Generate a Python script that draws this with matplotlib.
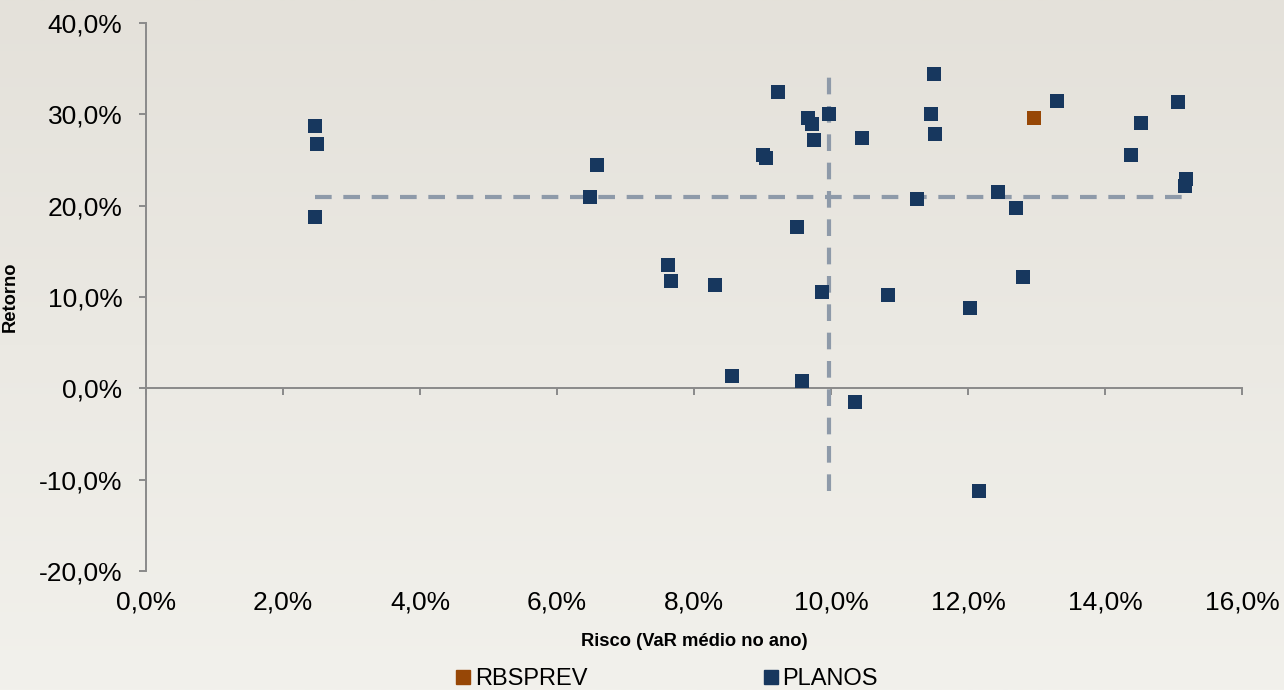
import numpy as np
import matplotlib
matplotlib.use("Agg")
import matplotlib.pyplot as plt
from matplotlib.ticker import FuncFormatter
from matplotlib.lines import Line2D

# risco (VaR medio no ano, %) x retorno (%) por plano
plano_risco = [2.47, 2.50, 2.47, 6.48, 6.58, 7.62, 7.66, 8.31, 8.55, 9.00, 9.05,
               9.23, 9.50, 9.58, 9.66, 9.72, 9.75, 9.87, 9.97, 10.35, 10.45, 10.83,
               11.25, 11.46, 11.50, 11.52, 12.03, 12.16, 12.44, 12.70, 12.80, 13.30,
               14.38, 14.53, 15.07, 15.18, 15.17]
plano_retorno = [28.7, 26.7, 18.8, 20.9, 24.5, 13.5, 11.8, 11.3, 1.4, 25.6, 25.2,
                 32.5, 17.7, 0.8, 29.6, 28.9, 27.2, 10.6, 30.0, -1.5, 27.4, 10.2,
                 20.7, 30.0, 34.4, 27.8, 8.8, -11.2, 21.5, 19.7, 12.2, 31.5,
                 25.6, 29.1, 31.3, 22.9, 22.2]
rbsprev_risco = [12.96]
rbsprev_retorno = [29.6]

media_risco = 9.97
media_retorno = 20.9

x_ticks = [0, 2, 4, 6, 8, 10, 12, 14, 16]
y_ticks = [-20, -10, 0, 10, 20, 30, 40]

AZUL = "#17375e"
LARANJA = "#974706"
CINZA = "#8a8a8a"
TRACO = "#8e9aa9"

plt.rcParams["font.family"] = ["Liberation Sans", "DejaVu Sans"]

fig = plt.figure(figsize=(12.84, 6.9), dpi=100)

# fundo em degrade cinza claro
bg = fig.add_axes([0, 0, 1, 1], zorder=-10)
grad = np.linspace(0, 1, 256).reshape(-1, 1)
bg.imshow(grad, aspect="auto", cmap=matplotlib.colors.LinearSegmentedColormap.from_list(
    "bg", ["#e4e1da", "#f2f1ec"]), extent=[0, 1, 0, 1], origin="upper")
bg.axis("off")

ax = fig.add_axes([146 / 1284, 1 - 571 / 690, (1242 - 146) / 1284, (571 - 23) / 690])
ax.patch.set_alpha(0)

pct = FuncFormatter(lambda v, p: f"{v:.1f}%".replace(".", ","))

# linhas de media
ax.plot([min(plano_risco), max(plano_risco)], [media_retorno, media_retorno],
        color=TRACO, lw=3, dashes=(4, 2.8), zorder=2)
ax.plot([media_risco, media_risco], [min(plano_retorno), max(plano_retorno)],
        color=TRACO, lw=3, dashes=(4, 2.8), zorder=2)

ax.scatter(plano_risco, plano_retorno, marker="s", s=100, color=AZUL, lw=0, zorder=3)
ax.scatter(rbsprev_risco, rbsprev_retorno, marker="s", s=100, color=LARANJA, lw=0, zorder=4)

ax.set_xlim(0, 16)
ax.set_ylim(-20, 40)
ax.set_xticks(x_ticks)
ax.set_yticks(y_ticks)
ax.yaxis.set_major_formatter(pct)

for s in ["top", "right"]:
    ax.spines[s].set_visible(False)
ax.spines["bottom"].set_position(("data", 0))
for s in ["left", "bottom"]:
    ax.spines[s].set_color(CINZA)
    ax.spines[s].set_linewidth(1.4)
ax.tick_params(axis="x", labelbottom=False, length=5, width=1.4, color=CINZA, direction="out")
ax.tick_params(axis="y", length=5, width=1.4, color=CINZA, labelsize=19, pad=12)

# rotulos do eixo x na base do grafico
sec = ax.secondary_xaxis(0)
sec.set_xticks(x_ticks)
sec.xaxis.set_major_formatter(pct)
sec.spines["bottom"].set_visible(False)
sec.tick_params(length=0, labelsize=19, pad=14)
sec.set_xlabel("Risco (VaR médio no ano)", fontsize=13.2, fontweight="bold", labelpad=13)

ax.set_ylabel("Retorno", fontsize=13.2, fontweight="bold")
ax.yaxis.set_label_coords((19 - 146) / 1096, 0.5)

handles = [
    Line2D([], [], marker="s", ls="", ms=10, color=LARANJA, label="RBSPREV"),
    Line2D([], [], marker="s", ls="", ms=10, color=AZUL, label="PLANOS"),
]
fig.legend(handles=handles, loc="center", bbox_to_anchor=(666 / 1284, 1 - 679 / 690),
           ncol=2, frameon=False, fontsize=17, columnspacing=7.35, handletextpad=0.1,
           handlelength=0.8)

fig.savefig("out.png", dpi=100)
